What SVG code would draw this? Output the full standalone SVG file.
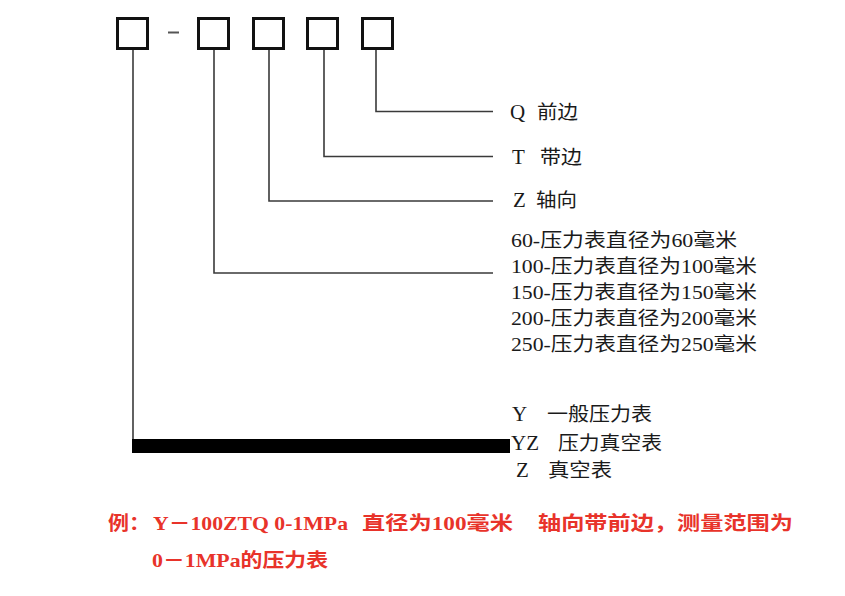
<svg xmlns="http://www.w3.org/2000/svg" width="845" height="596" viewBox="0 0 845 596">
  <style>
    .box { fill: none; stroke: #111; stroke-width: 3; }
    .ln { fill: none; stroke: #3a3a3a; stroke-width: 1.6; }
    .t { font-family: "Liberation Serif", "Noto Sans CJK SC", serif; font-size: 19px; fill: #1a1a1a; }
    .l { font-family: "Liberation Serif", "Noto Sans CJK SC", serif; font-size: 21px; fill: #1a1a1a; }
    .r { font-family: "Liberation Serif", "Noto Sans CJK SC", serif; font-size: 19px; font-weight: bold; fill: #e8332a; }
  </style>
  <rect width="845" height="596" fill="#ffffff"/>

  <g id="box1"><rect class="box" x="117.5" y="18.5" width="30" height="30"/></g>
  <g id="dash"><line x1="168" y1="32.5" x2="179" y2="32.5" stroke="#555" stroke-width="2"/></g>
  <g id="box2"><rect class="box" x="198.5" y="18.5" width="30" height="30"/></g>
  <g id="box3"><rect class="box" x="253.5" y="18.5" width="30" height="30"/></g>
  <g id="box4"><rect class="box" x="307.5" y="18.5" width="30" height="30"/></g>
  <g id="box5"><rect class="box" x="362.5" y="18.5" width="30" height="30"/></g>

  <g id="connectors">
    <polyline class="ln" points="376,50 376,111.5 493,111.5"/>
    <polyline class="ln" points="324,50 324,156.5 493,156.5"/>
    <polyline class="ln" points="269,50 269,201 493,201"/>
    <polyline class="ln" points="214,50 214,273 493,273"/>
    <polyline class="ln" points="133,50 133,440" stroke-width="2"/>
    <rect x="132" y="439" width="378" height="14" fill="#000"/>
  </g>

  <g id="label-q">
    <text class="l" x="510" y="119">Q</text>
    <text class="t" x="537" y="119" textLength="41" lengthAdjust="spacingAndGlyphs">前边</text>
  </g>
  <g id="label-t">
    <text class="l" x="512" y="164">T</text>
    <text class="t" x="540" y="164" textLength="42" lengthAdjust="spacingAndGlyphs">带边</text>
  </g>
  <g id="label-z">
    <text class="l" x="513" y="207">Z</text>
    <text class="t" x="536" y="207" textLength="41" lengthAdjust="spacingAndGlyphs">轴向</text>
  </g>

  <g id="label-sizes">
    <text class="t" x="511" y="247" textLength="226" lengthAdjust="spacingAndGlyphs">60-压力表直径为60毫米</text>
    <text class="t" x="511" y="273" textLength="246" lengthAdjust="spacingAndGlyphs">100-压力表直径为100毫米</text>
    <text class="t" x="511" y="299" textLength="246" lengthAdjust="spacingAndGlyphs">150-压力表直径为150毫米</text>
    <text class="t" x="511" y="325" textLength="246" lengthAdjust="spacingAndGlyphs">200-压力表直径为200毫米</text>
    <text class="t" x="511" y="351" textLength="246" lengthAdjust="spacingAndGlyphs">250-压力表直径为250毫米</text>
  </g>

  <g id="label-types">
    <text class="l" x="512" y="421">Y</text>
    <text class="t" x="547" y="421" textLength="105" lengthAdjust="spacingAndGlyphs">一般压力表</text>
    <text class="l" x="511" y="450" textLength="28" lengthAdjust="spacingAndGlyphs">YZ</text>
    <text class="t" x="558" y="450" textLength="104" lengthAdjust="spacingAndGlyphs">压力真空表</text>
    <text class="l" x="516" y="477">Z</text>
    <text class="t" x="548" y="477" textLength="64" lengthAdjust="spacingAndGlyphs">真空表</text>
  </g>

  <g id="example">
    <text class="r" x="108" y="530" textLength="42" lengthAdjust="spacingAndGlyphs">例：</text>
    <text class="r" x="153" y="530" textLength="195" lengthAdjust="spacingAndGlyphs">Y－100ZTQ 0-1MPa</text>
    <text class="r" x="362" y="530" textLength="151" lengthAdjust="spacingAndGlyphs">直径为100毫米</text>
    <text class="r" x="538" y="530" textLength="255" lengthAdjust="spacingAndGlyphs">轴向带前边，测量范围为</text>
    <text class="r" x="152" y="567" textLength="176" lengthAdjust="spacingAndGlyphs">0－1MPa的压力表</text>
  </g>
</svg>
